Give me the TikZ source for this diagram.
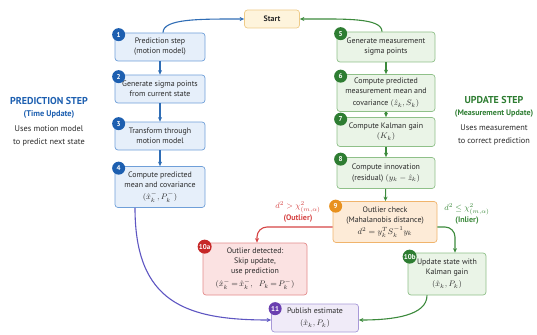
\documentclass[tikz,border=0pt]{standalone}
\usepackage{amsmath,amssymb}
\usepackage{fontspec}
\setmainfont{PT Sans}
\usetikzlibrary{arrows.meta,positioning,calc}

\definecolor{txtgray}{HTML}{2A2A2A}
\definecolor{predfill}{HTML}{E6EFFA}
\definecolor{predline}{HTML}{6F9FD8}
\definecolor{predarrow}{HTML}{2F6DB5}
\definecolor{predbadge}{HTML}{1D5FB0}
\definecolor{updfill}{HTML}{EAF4E7}
\definecolor{updline}{HTML}{8FC089}
\definecolor{updarrow}{HTML}{3C8A3C}
\definecolor{updbadge}{HTML}{2E7D32}
\definecolor{startfill}{HTML}{FEF4DC}
\definecolor{startline}{HTML}{EECB88}
\definecolor{chkfill}{HTML}{FDEBD7}
\definecolor{chkline}{HTML}{F0B46C}
\definecolor{chkbadge}{HTML}{E8911E}
\definecolor{outfill}{HTML}{FBE2E2}
\definecolor{outline}{HTML}{E38B8B}
\definecolor{outarrow}{HTML}{D64545}
\definecolor{outbadge}{HTML}{C62828}
\definecolor{pubfill}{HTML}{F0EBF8}
\definecolor{publine}{HTML}{A899D8}
\definecolor{pubbadge}{HTML}{6A3FB0}
\definecolor{pubarrow}{HTML}{5E56C2}

\tikzset{
  box/.style={draw, rounded corners=3pt, align=center, line width=0.7pt,
    inner sep=1.5pt, text=txtgray, font=\fontsize{7.9}{10}\selectfont},
  predbox/.style={box, fill=predfill, draw=predline, minimum width=90pt},
  updbox/.style={box, fill=updfill, draw=updline, minimum width=98pt},
  badge/.style={circle, fill=#1, text=white, inner sep=0pt, minimum size=13pt,
    font=\bfseries\fontsize{7}{7}\selectfont},
  flow/.style={->, line width=1.1pt},
}

\begin{document}
\begin{tikzpicture}[x=1pt, y=-1pt, >={Stealth[length=4.5pt,width=4pt]}]
\useasboundingbox (0,0) rectangle (537,334);

% start
\node[box, fill=startfill, draw=startline, minimum width=55pt, minimum height=18pt] (start) at (272,19) {\textbf{Start}};

% prediction column
\node[predbox, minimum height=28pt] (p1) at (160,47) {Prediction step\\(motion model)};
\node[predbox, minimum height=28pt] (p2) at (160,89) {Generate sigma points\\from current state};
\node[predbox, minimum height=28pt] (p3) at (160,136) {Transform through\\motion model};
\node[predbox, minimum height=41pt] (p4) at (160,187) {Compute predicted\\mean and covariance\\[2pt]$(\hat{x}_k^-, P_k^-)$};

% update column
\node[updbox, minimum height=30pt] (u5) at (386,47) {Generate measurement\\sigma points};
\node[updbox, minimum height=37pt] (u6) at (386,93) {Compute predicted\\measurement mean and\\[2pt]covariance $(\hat{z}_k, S_k)$};
\node[updbox, minimum height=29pt] (u7) at (386,132) {Compute Kalman gain\\$(K_k)$};
\node[updbox, minimum height=31pt] (u8) at (386,173) {Compute innovation\\[1pt](residual) $(y_k - \hat{z}_k)$};
\node[box, fill=chkfill, draw=chkline, minimum width=104pt, minimum height=41pt] (u9) at (385,222) {Outlier check\\(Mahalanobis distance)\\[2pt]$d^2 = y_k^T S_k^{-1} y_k$};

% outcomes
\node[box, fill=outfill, draw=outline, minimum width=104pt, minimum height=52pt] (o10a) at (255,269) {Outlier detected:\\Skip update,\\use prediction\\[3pt]$(\hat{x}^{-}_{k} \,{=}\, \hat{x}^{-}_{k},\;\; P_k \,{=}\, P^{-}_{k})$};
\node[updbox, minimum width=78pt, minimum height=42pt] (u10b) at (447,274) {Update state with\\Kalman gain\\[2pt]$(\hat{x}_k, P_k)$};
\node[box, fill=pubfill, draw=publine, minimum width=87pt, minimum height=28pt] (pub) at (315,318) {Publish estimate\\[2pt]$(\hat{x}_k, P_k)$};

% badges
\node[badge=predbadge] at ($(p1.north west)+(4,2)$) {1};
\node[badge=predbadge] at ($(p2.north west)+(4,2)$) {2};
\node[badge=predbadge] at ($(p3.north west)+(4,2)$) {3};
\node[badge=predbadge] at ($(p4.north west)+(4,2)$) {4};
\node[badge=updbadge] at ($(u5.north west)+(4,2)$) {5};
\node[badge=updbadge] at ($(u6.north west)+(4,2)$) {6};
\node[badge=updbadge] at ($(u7.north west)+(4,2)$) {7};
\node[badge=updbadge] at ($(u8.north west)+(4,2)$) {8};
\node[badge=chkbadge] at ($(u9.north west)+(3,5)$) {9};
\node[badge=outbadge, minimum size=14pt] at ($(o10a.north west)+(2,4)$) {10a};
\node[badge=updbadge, minimum size=14pt] at ($(u10b.north west)+(2,4)$) {10b};
\node[badge=pubbadge] at ($(pub.north west)+(4,5)$) {11};

% side notes
\node[text=predbadge, font=\bfseries\fontsize{10}{11}\selectfont] (predhead) at (49,101) {PREDICTION STEP};
\node[text=predbadge, font=\bfseries\fontsize{8.3}{9}\selectfont, below=-1pt of predhead] (predsub) {(Time Update)};
\node[text=txtgray, align=center, font=\fontsize{8.3}{13}\selectfont, below=0pt of predsub] (prednote) {Uses motion model\\to predict next state};
\node[text=updbadge, font=\bfseries\fontsize{10}{11}\selectfont] (updhead) at (494,100) {UPDATE STEP};
\node[text=updbadge, font=\bfseries\fontsize{8}{9}\selectfont, below=-1pt of updhead] (updsub) {(Measurement Update)};
\node[text=txtgray, align=center, font=\fontsize{8.3}{13}\selectfont, below=0pt of updsub] (updnote) {Uses measurement\\to correct prediction};

% connectors
\draw[flow, predarrow] ([xshift=3pt]p1.north) .. controls +(0,-14) and +(-45,0) .. (start.west);
\draw[flow, updarrow] ([xshift=-4pt]u5.north) .. controls +(0,-14) and +(45,0) .. (start.east);
\draw[flow, predarrow] (p1) -- (p2);
\draw[flow, predarrow] (p2) -- (p3);
\draw[flow, predarrow] (p3) -- (p4);
\draw[flow, updarrow] (u5) -- (u6);
\draw[flow, updarrow] (u6) -- (u7);
\draw[flow, updarrow] (u7) -- (u8);
\draw[flow, updarrow] (u8) -- (u9);
\draw[flow, outarrow, rounded corners=10pt] ([yshift=-5pt]u9.west) -| ([xshift=2pt]o10a.north);
\draw[flow, updarrow, rounded corners=10pt] ([yshift=-5pt]u9.east) -| ([xshift=8pt]u10b.north);
\draw[flow, updarrow] ([xshift=-20pt]u10b.south) .. controls +(0,20) and +(35,0) .. ([yshift=-2pt]pub.east);
\draw[flow, pubarrow] ([xshift=-25pt]p4.south) .. controls +(0,95) and +(-85,0) .. ([yshift=-2pt]pub.west);

% branch labels
\node[text=outarrow, align=center, font=\fontsize{8}{10}\selectfont] (outlbl) at (298,212) {$d^2 > \chi^2_{(m,\alpha)}$\\\textbf{(Outlier)}};
\node[text=updarrow, align=center, font=\fontsize{8}{10}\selectfont] (inlbl) at (467,214) {$d^2 \le \chi^2_{(m,\alpha)}$\\\textbf{(Inlier)}};
\end{tikzpicture}
\end{document}
